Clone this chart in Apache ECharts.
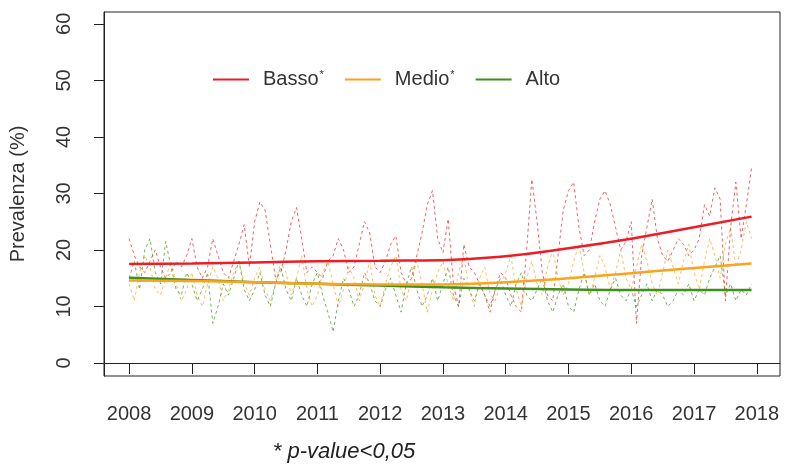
<!DOCTYPE html>
<html>
<head>
<meta charset="utf-8">
<script src="https://cdn.jsdelivr.net/npm/echarts@6/dist/echarts.min.js"></script>
<style>
html,body{margin:0;padding:0;background:#fff;}
#chart{width:788px;height:464px;}
</style>
</head>
<body>
<div id="chart"></div>
<script>
// Monthly series, Jan 2008 - Dec 2017
var startYear = 2008;
var basso = [
  22, 19, 17, 16, 18, 20, 17, 15, 16, 18, 17, 19,
  22, 17, 15, 17, 22, 19, 16, 15, 18, 21, 24.5, 17,
  25, 28.5, 27, 21, 15, 16, 20, 25, 27.5, 22, 16, 17,
  16, 15, 18, 19, 22, 20, 16, 17, 21, 25, 23, 17,
  16, 18, 21, 22.5, 16, 14, 15, 19, 23, 28, 30.5, 22,
  19.5, 25.5, 14, 10, 21, 17, 16, 14, 12, 9, 13, 16,
  15, 12, 10, 9, 20, 32.5, 25, 16, 12, 11, 19, 27,
  30.5, 32, 24, 19, 20, 25, 29, 30.5, 28, 24, 20, 21.5,
  25, 7, 19, 24, 29, 22, 19, 18, 20, 22, 21, 19,
  20, 22, 28, 26, 31, 29, 11, 24, 32, 22, 28, 34.5
];
var medio = [
  14, 11, 16, 19, 17, 13, 12, 15, 18, 14, 11, 13,
  16, 12, 10, 14, 17, 15, 11, 13, 16, 18, 14, 12,
  15, 17, 13, 11, 14, 18, 16, 12, 15, 19, 13, 10,
  12, 16, 18, 14, 10, 13, 17, 15, 11, 14, 18, 12,
  10, 14, 17, 19, 13, 11, 15, 18, 14, 9, 13, 16,
  18, 14, 11, 16, 19, 13, 10, 15, 17, 12, 11, 14,
  16, 19, 13, 10, 15, 18, 14, 12, 17, 20, 15, 12,
  14, 18, 21, 16, 12, 15, 19, 17, 13, 16, 20, 15,
  13, 17, 21, 18, 14, 12, 16, 20, 17, 14, 18, 21,
  16, 13, 18, 22, 19, 15, 21, 24, 17, 20, 25, 22
];
var alto = [
  15, 18, 13, 20, 22, 16, 14, 21.5, 17, 13, 12, 16,
  14, 11, 13, 16, 7, 10, 14, 12, 15, 18, 13, 11,
  13, 16, 12, 10, 14, 17, 13, 11, 15, 12, 10, 14,
  16, 12, 9, 5.5, 11, 15, 13, 10, 12, 16, 14, 11,
  10, 13, 15, 12, 9, 14, 17, 13, 10, 12, 15, 11,
  14, 17, 12, 10, 15, 13, 11, 14, 12, 10, 13, 15,
  12, 10, 14, 16, 12, 11, 13, 15, 11, 9, 12, 14,
  10, 9, 13, 16, 12, 14, 11, 10, 13, 15, 12, 11,
  13, 10, 12, 14, 11, 13, 12, 10, 11, 13, 12, 14,
  11, 13, 12, 15, 17, 19, 12, 14, 11, 13, 12, 14
];
// Smoothed trends
var trendYears = [2008, 2009, 2010, 2011, 2012, 2013, 2014, 2015, 2016, 2017, 2017.917];
var trendBasso = [17.5, 17.6, 17.8, 18.0, 18.1, 18.2, 18.9, 20.3, 22.0, 24.0, 25.9];
var trendMedio = [14.6, 14.5, 14.3, 14.0, 13.9, 13.9, 14.3, 15.0, 15.9, 16.8, 17.6];
var trendAlto  = [15.1, 14.7, 14.3, 14.0, 13.7, 13.4, 13.2, 13.0, 12.9, 12.9, 12.9];
var yearTicks = [2008, 2009, 2010, 2011, 2012, 2013, 2014, 2015, 2016, 2017, 2018];
var yTicks = [0, 10, 20, 30, 40, 50, 60];
var names = ['Basso', 'Medio', 'Alto'];
var colors = ['#ee1c24', '#fba31c', '#3f8f1c'];

function monthly(vals) {
  return vals.map(function (v, i) { return [startYear + i / 12, v]; });
}
function trend(vals) {
  return vals.map(function (v, i) { return [trendYears[i], v]; });
}

var chart = echarts.init(document.getElementById('chart'), null, {renderer: 'canvas'});
var font = '"Liberation Sans", Arial, sans-serif';
var monthlyData = [basso, medio, alto];
var trendData = [trendBasso, trendMedio, trendAlto];
var series = [];
monthlyData.forEach(function (vals, k) {
  series.push({
    name: names[k] + ' mensile',
    type: 'line',
    data: monthly(vals),
    showSymbol: false,
    symbol: 'none',
    silent: true,
    z: 2,
    lineStyle: {color: colors[k], width: 1, type: [3, 3], opacity: 0.7}
  });
});
[2, 1, 0].forEach(function (k) {
  series.push({
    name: names[k],
    type: 'line',
    data: trend(trendData[k]),
    smooth: 0.5,
    showSymbol: false,
    symbol: 'none',
    z: 5,
    itemStyle: {color: colors[k]},
    lineStyle: {color: colors[k], width: 2.5}
  });
});

chart.setOption({
  animation: false,
  backgroundColor: '#fff',
  grid: {left: 104, right: 8, top: 12, bottom: 88, show: true, borderColor: '#222', borderWidth: 1, backgroundColor: 'transparent'},
  legend: {
    data: names,
    left: 208, top: 64,
    icon: 'rect', itemWidth: 36, itemHeight: 2,
    itemGap: 21,
    textStyle: {fontFamily: font, fontSize: 20, color: '#333', padding: [0, 0, 0, 9],
      rich: {n: {fontFamily: font, fontSize: 20, color: '#333'}, s: {fontFamily: font, fontSize: 11, color: '#333', verticalAlign: 'top', padding: [0, 0, 10, 1]}}},
    formatter: function (n) { return n === 'Alto' ? '{n|' + n + '}' : '{n|' + n + '}{s|*}'; }
  },
  xAxis: {
    type: 'value', min: 2007.6, max: 2018.37,
    axisLine: {show: true, lineStyle: {color: '#222', width: 1}},
    axisTick: {show: true, length: 11, customValues: yearTicks, lineStyle: {color: '#222'}},
    axisLabel: {customValues: yearTicks, formatter: function (v) { return String(v); }, fontFamily: font, fontSize: 20, color: '#333', margin: 28},
    splitLine: {show: false}
  },
  yAxis: {
    type: 'value', min: -2.3, max: 62.1,
    name: 'Prevalenza (%)', nameLocation: 'middle', nameRotate: 90, nameGap: 76,
    nameTextStyle: {fontFamily: font, fontSize: 20, color: '#333'},
    axisLine: {show: true, lineStyle: {color: '#222', width: 1}},
    axisTick: {show: true, length: 10, customValues: yTicks, lineStyle: {color: '#222'}},
    axisLabel: {customValues: yTicks, formatter: function (v) { return String(v); }, rotate: 90, fontFamily: font, fontSize: 20, color: '#333', margin: 30},
    splitLine: {show: false}
  },
  graphic: [{
    type: 'text', x: 344, y: 452,
    style: {text: '* p-value<0,05', fontFamily: font, fontSize: 22, fontStyle: 'italic', fill: '#222', align: 'center', verticalAlign: 'middle'}
  }],
  series: series
});
</script>
</body>
</html>
